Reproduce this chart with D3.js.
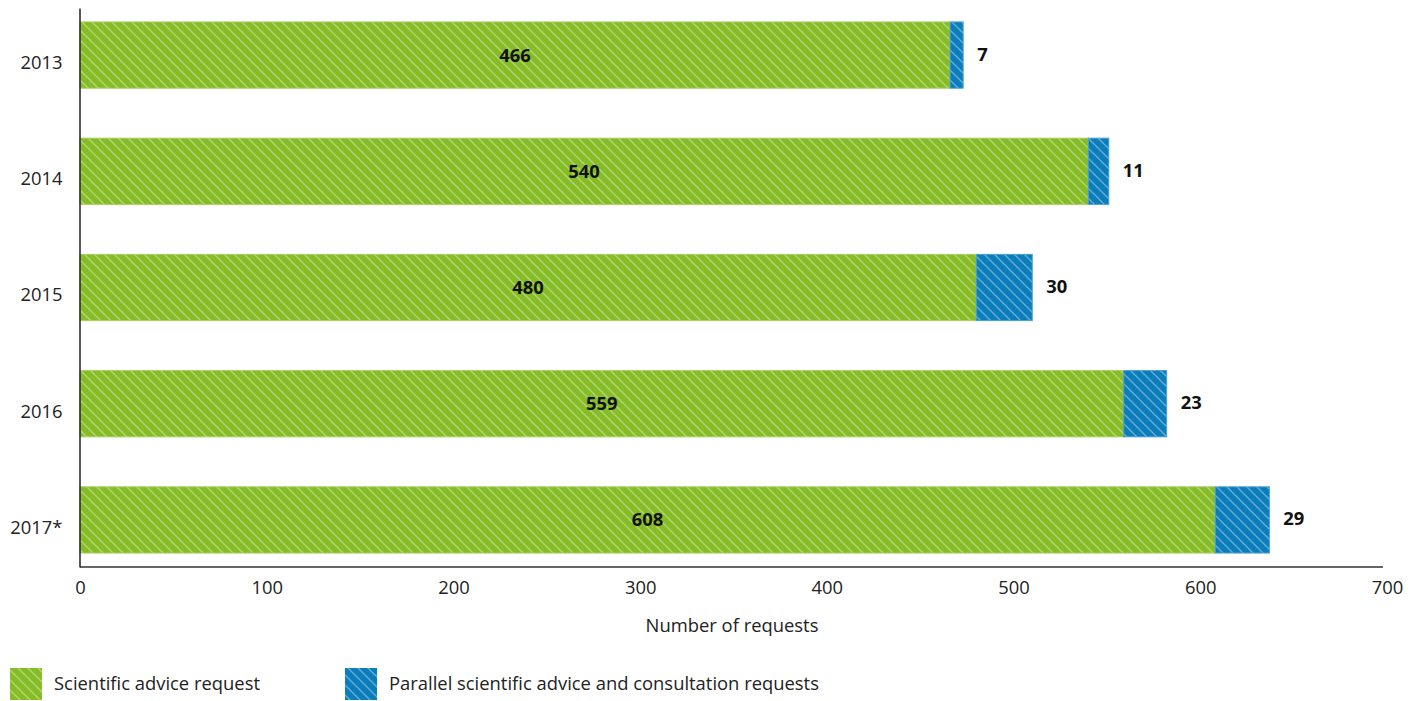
<!DOCTYPE html>
<html>
<head>
<meta charset="utf-8">
<script src="https://cdn.jsdelivr.net/npm/d3@7"></script>
<style>
body{margin:0;background:#fff;}
text{font-family:"Open Sans","Noto Sans",sans-serif;}
</style>
</head>
<body>
<svg id="c" width="1420" height="701"></svg>
<script>
const years = ["2013","2014","2015","2016","2017*"];
const scientificAdvice = [466,540,480,559,608];
const parallelAdvice = [7,11,30,23,29];
const seriesNames = ["Scientific advice request","Parallel scientific advice and consultation requests"];
const seriesColors = ["#86bc25","#0b7dbb"];
const xTicks = [0,100,200,300,400,500,600,700];

const svg = d3.select("#c");
const defs = svg.append("defs");
seriesColors.forEach((c,i)=>{
  const p = defs.append("pattern").attr("id","hatch"+i)
    .attr("patternUnits","userSpaceOnUse").attr("width",10).attr("height",10);
  p.append("rect").attr("width",10).attr("height",10).attr("fill",c);
  const g = p.append("g").attr("stroke","rgba(255,255,255,0.38)").attr("stroke-width",1.3);
  g.append("line").attr("x1",0).attr("y1",0).attr("x2",10).attr("y2",10);
  g.append("line").attr("x1",-5).attr("y1",5).attr("x2",5).attr("y2",15);
  g.append("line").attr("x1",5).attr("y1",-5).attr("x2",15).attr("y2",5);
});

const x = d3.scaleLinear().domain([0,700]).range([80,1387]);
const y = d3.scaleBand().domain(years).range([8,567]).paddingInner(0.43).paddingOuter(0.12);

const data = years.map((yr,i)=>({year:yr,a:scientificAdvice[i],b:parallelAdvice[i]}));
const FS = 18.4;

// bars
const g = svg.append("g");
g.selectAll("rect.a").data(data).join("rect").attr("class","a")
  .attr("x",x(0)).attr("y",d=>y(d.year)).attr("width",d=>x(d.a)-x(0)).attr("height",y.bandwidth())
  .attr("fill","url(#hatch0)").attr("stroke","#a6cf5f").attr("stroke-width",1);
g.selectAll("rect.b").data(data).join("rect").attr("class","b")
  .attr("x",d=>x(d.a)).attr("y",d=>y(d.year)).attr("width",d=>x(d.a+d.b)-x(d.a)).attr("height",y.bandwidth())
  .attr("fill","url(#hatch1)").attr("stroke","#4a9fd0").attr("stroke-width",1);

// labels
g.selectAll("text.la").data(data).join("text").attr("class","la")
  .attr("x",d=>(x(0)+x(d.a))/2).attr("y",d=>y(d.year)+y.bandwidth()/2)
  .attr("text-anchor","middle").attr("dy","0.35em")
  .attr("font-size",FS).attr("font-weight","bold").attr("fill","#111").text(d=>d.a);
g.selectAll("text.lb").data(data).join("text").attr("class","lb")
  .attr("x",d=>x(d.a+d.b)+14).attr("y",d=>y(d.year)+y.bandwidth()/2-1)
  .attr("text-anchor","start").attr("dy","0.35em")
  .attr("font-size",FS).attr("font-weight","bold").attr("fill","#111").text(d=>d.b);

// axes
const xAxis = svg.append("g").attr("transform","translate(0,567)")
  .call(d3.axisBottom(x).tickValues(xTicks).tickSize(0).tickPadding(14));
xAxis.select(".domain").attr("stroke","#333").attr("stroke-width",1.5).attr("d","M80,0H1383");
xAxis.selectAll("text").attr("font-size",FS).attr("fill","#222").style("font-family","'Open Sans','Noto Sans',sans-serif");

const yAxis = svg.append("g").attr("transform","translate(79.5,0)")
  .call(d3.axisLeft(y).tickSize(0).tickPadding(17));
yAxis.select(".domain").attr("stroke","#222").attr("stroke-width",1.5);
yAxis.selectAll("text").attr("font-size",FS).attr("fill","#222").attr("dy","0.75em")
  .style("font-family","'Open Sans','Noto Sans',sans-serif");

svg.append("text").attr("x",732).attr("y",626).attr("text-anchor","middle").attr("dy","0.35em")
  .attr("font-size",FS).attr("fill","#222").text("Number of requests");

// legend
const legX = [10,345];
seriesNames.forEach((n,i)=>{
  svg.append("rect").attr("x",legX[i]).attr("y",668).attr("width",32).attr("height",32)
    .attr("fill","url(#hatch"+i+")");
  svg.append("text").attr("x",legX[i]+44).attr("y",684).attr("dy","0.35em")
    .attr("font-size",FS).attr("fill","#222").text(n);
});
</script>
</body>
</html>
